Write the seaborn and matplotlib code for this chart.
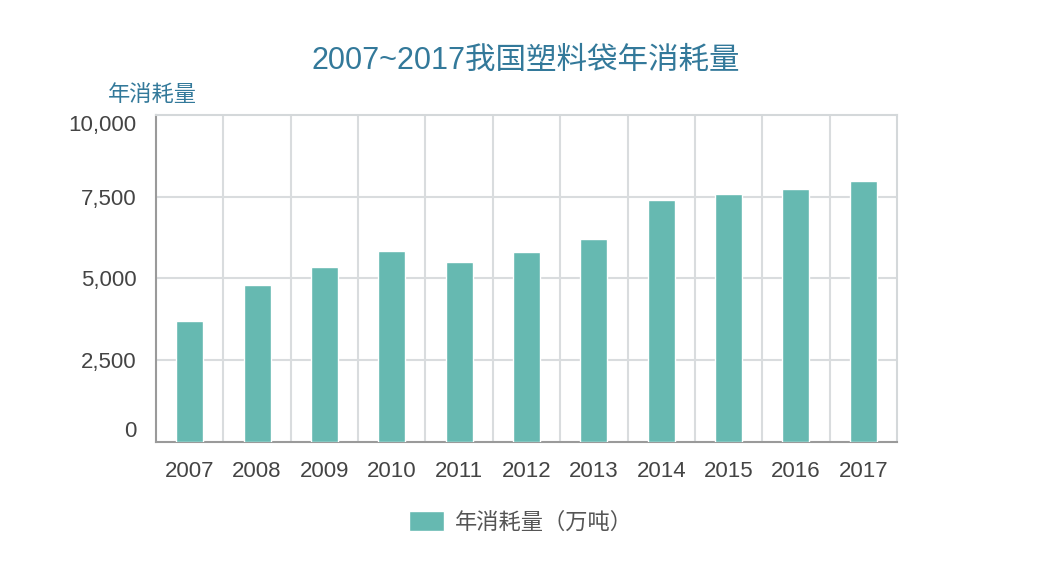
import matplotlib
matplotlib.use("Agg")
import matplotlib.pyplot as plt
import seaborn as sns
import pandas as pd
from matplotlib.ticker import FixedLocator, FuncFormatter

years = ["2007", "2008", "2009", "2010", "2011", "2012", "2013", "2014", "2015", "2016", "2017"]
consumption = [3700, 4800, 5350, 5850, 5500, 5800, 6200, 7400, 7600, 7750, 8000]
yticks = [0, 2500, 5000, 7500, 10000]
title = "2007~2017我国塑料袋年消耗量"
y_name = "年消耗量"
series_name = "年消耗量（万吨）"

sns.set_theme(style="white")
plt.rcParams['font.family'] = ['Liberation Sans', 'Noto Sans CJK SC', 'DejaVu Sans']

df = pd.DataFrame({"year": years, "value": consumption})

fig = plt.figure(figsize=(10.54, 5.88), dpi=100)
ax = fig.add_axes([0.148, 0.249, 0.703, 0.555])

bar_color = "#66b9b1"
sns.barplot(data=df, x="year", y="value", color=bar_color, width=0.4,
            saturation=1, ax=ax, zorder=3, label=series_name)

ax.set_ylim(0, 10000)
ax.set_xlim(-0.5, len(years) - 0.5)
ax.yaxis.set_major_locator(FixedLocator(yticks))
ax.yaxis.set_major_formatter(FuncFormatter(lambda v, p: f"{int(v):,}"))

# gridlines
for v in yticks[1:-1]:
    ax.axhline(v, color="#d9dcde", lw=1.5, zorder=1)
for i in range(len(years) - 1):
    ax.axvline(i + 0.5, color="#d9dcde", lw=1.5, zorder=1)

for s in ["top", "right"]:
    ax.spines[s].set_color("#d4d8da")
    ax.spines[s].set_linewidth(1.5)
for s in ["left", "bottom"]:
    ax.spines[s].set_color("#9a9a9a")
    ax.spines[s].set_linewidth(1.5)

ax.tick_params(axis="both", length=0, labelsize=16, colors="#444444")
ax.tick_params(axis="x", pad=14)
ax.tick_params(axis="y", pad=14)
for lab in ax.get_yticklabels():
    if lab.get_text() == "10,000":
        lab.set_va("top")
    elif lab.get_text() == "0":
        lab.set_va("bottom")
ax.set_xlabel("")
ax.set_ylabel("")

fig.text(0.499, 0.897, title, ha="center", va="center", fontsize=22,
         color="#33799a")
fig.text(0.102, 0.838, y_name, ha="left", va="center", fontsize=16,
         color="#33799a")

leg = ax.legend(loc="center", frameon=False, fontsize=16, handlelength=1.6,
                handleheight=1.0, handletextpad=0.45, labelcolor="#555555")
leg.set_bbox_to_anchor((0.494, 0.112), transform=fig.transFigure)

fig.savefig("out.png", dpi=100)
